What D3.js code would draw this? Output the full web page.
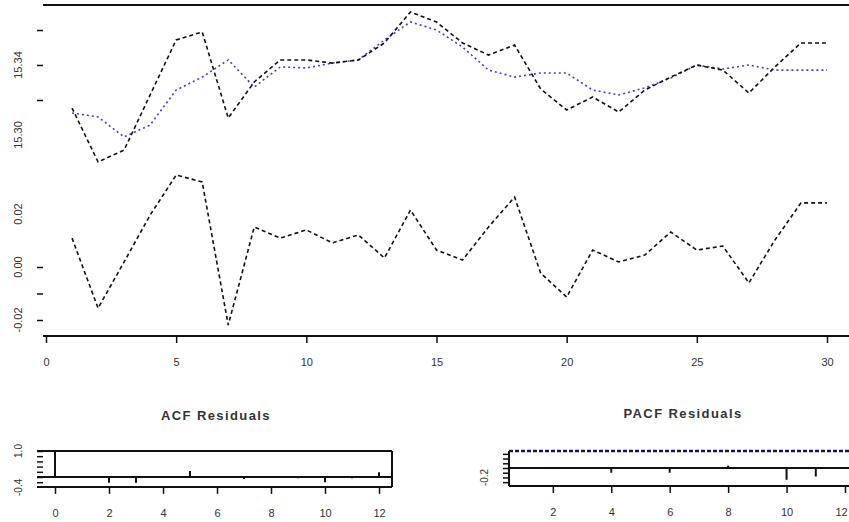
<!DOCTYPE html>
<html>
<head>
<meta charset="utf-8">
<script src="https://cdn.jsdelivr.net/npm/d3@7"></script>
<style>
  html, body { margin: 0; padding: 0; background: #fff; }
  svg { display: block; }
  text { font-family: "Liberation Sans", Arial, sans-serif; fill: #333; }
</style>
</head>
<body>
<svg id="chart" width="849" height="522"></svg>
<script>
// ---------------- DATA ----------------
const times = [1,2,3,4,5,6,7,8,9,10,11,12,13,14,15,16,17,18,19,20,21,22,23,24,25,26,27,28,29,30];
const observed = [15.3154,15.2846,15.2914,15.3229,15.3543,15.3589,15.3097,15.3303,15.3429,15.3429,
                  15.3411,15.3429,15.3526,15.3703,15.3646,15.3526,15.3457,15.3514,15.3263,15.3143,
                  15.3217,15.3131,15.3257,15.3331,15.3400,15.3371,15.3240,15.3389,15.3526,15.3526];
const fitted   = [15.3126,15.3103,15.2989,15.3057,15.3257,15.3331,15.3429,15.3274,15.3389,15.3383,
                  15.3411,15.3429,15.3543,15.3646,15.3600,15.3503,15.3371,15.3331,15.3354,15.3354,
                  15.3257,15.3229,15.3269,15.3326,15.3400,15.3377,15.3400,15.3371,15.3371,15.3371];
const residuals = [0.0109,-0.0155,0.0019,0.0196,0.0347,0.0321,-0.0219,0.0151,0.0109,0.0140,
                   0.0091,0.0121,0.0034,0.0215,0.0064,0.0026,0.0151,0.0264,-0.0023,-0.0113,
                   0.0064,0.0019,0.0045,0.0132,0.0064,0.0079,-0.0060,0.0102,0.0242,0.0242];

const xTicks = [0,5,10,15,20,25,30];
const xTickLabels = ["0","5","10","15","20","25","30"];

const levelTicks = [15.36,15.34,15.32];
const levelLabelValues = [15.34,15.30];
const levelLabels = ["15.34","15.30"];

const residTicks = [0,-0.01,-0.02];
const residLabelValues = [0.02,0,-0.02];
const residLabels = ["0.02","0.00","-0.02"];

const acfTitle = "ACF Residuals";
const acfLags = [0,1,2,3,4,5,6,7,8,9,10,11,12];
const acfValues = [1.0,0.01,-0.22,-0.22,0.01,0.23,0.01,-0.08,0.01,-0.05,-0.2,-0.05,0.18];
const acfXTicks = [0,2,4,6,8,10,12];
const acfXLabels = ["0","2","4","6","8","10","12"];
const acfYTicks = [1.0,0.8,0.6,0.4,0.2,0.0,-0.2];
const acfYLabelValues = [1.0,-0.4];
const acfYLabels = ["1.0","-0.4"];

const pacfTitle = "PACF Residuals";
const pacfLags = [1,2,3,4,5,6,7,8,9,10,11,12];
const pacfValues = [0.0,0.01,0.0,-0.1,0.0,-0.1,0.0,0.05,0.0,-0.25,-0.18,0.0];
const pacfBound = 0.36;
const pacfXTicks = [2,4,6,8,10,12];
const pacfXLabels = ["2","4","6","8","10","12"];
const pacfYTicks = [0.3,0.2,0.1,0.0,-0.1,-0.2,-0.3];
const pacfYLabelValues = [-0.2];
const pacfYLabels = ["-0.2"];

// ---------------- DRAW ----------------
const svg = d3.select("#chart");
svg.append("rect").attr("width",849).attr("height",522).attr("fill","#fff");

const x = d3.scaleLinear().domain([0,30]).range([46,827]);
const yLevel = d3.scaleLinear().domain([15.30,15.36]).range([135,30]);
const yRes = d3.scaleLinear().domain([-0.02,0.02]).range([320,214]);

function leftTicks(scale, ticks, xPos) {
  const g = svg.append("g").attr("transform",`translate(${xPos},0)`)
    .call(d3.axisLeft(scale).tickValues(ticks).tickSize(6).tickFormat(""));
  g.select(".domain").remove();
  g.selectAll("line").attr("stroke","#111").attr("stroke-width",1.5);
  return g;
}
function rotLabels(values, labels, scale, xPos, size) {
  svg.append("g").selectAll("text").data(values).join("text")
    .attr("transform", d => `translate(${xPos},${scale(d)}) rotate(-90)`)
    .attr("text-anchor","middle")
    .attr("font-size", size)
    .text((d,i) => labels[i]);
}

// top frame line
svg.append("line").attr("x1",43).attr("x2",849).attr("y1",5).attr("y2",5)
  .attr("stroke","#111").attr("stroke-width",2);

// level panel
leftTicks(yLevel, levelTicks, 43);
rotLabels(levelLabelValues, levelLabels, yLevel, 22, "11px");

const lineLevel = d3.line().x((d,i) => x(times[i])).y(d => yLevel(d));
svg.append("path").datum(fitted).attr("d", lineLevel)
  .attr("fill","none").attr("stroke","#4040d0").attr("stroke-width",1.6)
  .attr("stroke-dasharray","2,3");
svg.append("path").datum(observed).attr("d", lineLevel)
  .attr("fill","none").attr("stroke","#111").attr("stroke-width",1.6)
  .attr("stroke-dasharray","4,3");

// residual panel
leftTicks(yRes, residTicks, 43);
rotLabels(residLabelValues, residLabels, yRes, 22, "11px");
const lineRes = d3.line().x((d,i) => x(times[i])).y(d => yRes(d));
svg.append("path").datum(residuals).attr("d", lineRes)
  .attr("fill","none").attr("stroke","#111").attr("stroke-width",1.6)
  .attr("stroke-dasharray","4,3");

// x axis
const gx = svg.append("g").attr("transform","translate(0,336)")
  .call(d3.axisBottom(x).tickValues(xTicks).tickSize(7).tickFormat((d,i) => xTickLabels[i]));
gx.select(".domain").remove();
gx.selectAll("line").attr("stroke","#111").attr("stroke-width",1.5);
gx.selectAll("text").attr("font-size","11px").attr("dy","1.8em").attr("fill","#333");
svg.append("line").attr("x1",43).attr("x2",849).attr("y1",336).attr("y2",336)
  .attr("stroke","#111").attr("stroke-width",2);

// ---------------- ACF ----------------
const xAcf = d3.scaleLinear().domain([0,12]).range([55,379]);
const yAcf = d3.scaleLinear().domain([0,1]).range([477,451]);
const acfLeft = 37, acfRight = 392;

svg.append("text").attr("x",216).attr("y",420).attr("text-anchor","middle")
  .attr("font-size","13px").attr("letter-spacing","1.4px").attr("font-weight","bold")
  .attr("fill","#444").text(acfTitle);

[1.0, 0, -0.38].forEach(v => {
  svg.append("line").attr("x1",acfLeft).attr("x2",acfRight)
    .attr("y1",yAcf(v)).attr("y2",yAcf(v)).attr("stroke","#111").attr("stroke-width",2);
});
svg.append("line").attr("x1",acfRight).attr("x2",acfRight)
  .attr("y1",yAcf(1)).attr("y2",yAcf(-0.38)).attr("stroke","#111").attr("stroke-width",2);

svg.append("g").selectAll("line").data(acfValues).join("line")
  .attr("x1",(d,i) => xAcf(acfLags[i])).attr("x2",(d,i) => xAcf(acfLags[i]))
  .attr("y1",yAcf(0)).attr("y2",d => yAcf(d))
  .attr("stroke","#111").attr("stroke-width",2);

leftTicks(yAcf, acfYTicks, 43);
rotLabels(acfYLabelValues, acfYLabels, yAcf, 22, "10px");

const gxa = svg.append("g").attr("transform",`translate(0,${yAcf(-0.38)})`)
  .call(d3.axisBottom(xAcf).tickValues(acfXTicks).tickSize(7).tickFormat((d,i) => acfXLabels[i]));
gxa.select(".domain").remove();
gxa.selectAll("line").attr("stroke","#111").attr("stroke-width",1.5);
gxa.selectAll("text").attr("font-size","11px").attr("dy","1.8em").attr("fill","#333");

// ---------------- PACF ----------------
const xPacf = d3.scaleLinear().domain([1,12]).range([523.6,845]);
const yPacf = d3.scaleLinear().domain([0,pacfBound]).range([468,451]);
const pacfLeft = 509, pacfRight = 862;

svg.append("text").attr("x",683).attr("y",418).attr("text-anchor","middle")
  .attr("font-size","13px").attr("letter-spacing","1.4px").attr("font-weight","bold")
  .attr("fill","#444").text(pacfTitle);

svg.append("line").attr("x1",pacfLeft).attr("x2",pacfRight)
  .attr("y1",yPacf(0)).attr("y2",yPacf(0)).attr("stroke","#111").attr("stroke-width",2);
svg.append("line").attr("x1",pacfLeft).attr("x2",pacfRight)
  .attr("y1",yPacf(-0.38)).attr("y2",yPacf(-0.38)).attr("stroke","#111").attr("stroke-width",2);
svg.append("line").attr("x1",pacfLeft).attr("x2",pacfLeft)
  .attr("y1",yPacf(pacfBound)).attr("y2",yPacf(-0.38)).attr("stroke","#111").attr("stroke-width",2);
svg.append("line").attr("x1",pacfLeft).attr("x2",pacfRight)
  .attr("y1",yPacf(pacfBound)).attr("y2",yPacf(pacfBound))
  .attr("stroke","#10107a").attr("stroke-width",2.5).attr("stroke-dasharray","4,2");

svg.append("g").selectAll("line").data(pacfValues).join("line")
  .attr("x1",(d,i) => xPacf(pacfLags[i])).attr("x2",(d,i) => xPacf(pacfLags[i]))
  .attr("y1",yPacf(0)).attr("y2",d => yPacf(d))
  .attr("stroke","#111").attr("stroke-width",2);

leftTicks(yPacf, pacfYTicks, 509);
rotLabels(pacfYLabelValues, pacfYLabels, yPacf, 488, "10px");

const gxp = svg.append("g").attr("transform",`translate(0,${yPacf(-0.38)})`)
  .call(d3.axisBottom(xPacf).tickValues(pacfXTicks).tickSize(7).tickFormat((d,i) => pacfXLabels[i]));
gxp.select(".domain").remove();
gxp.selectAll("line").attr("stroke","#111").attr("stroke-width",1.5);
gxp.selectAll("text").attr("font-size","11px").attr("dy","1.8em").attr("fill","#333");
// keep the last label inside the window
gxp.selectAll("text").filter(d => d === pacfXTicks[pacfXTicks.length - 1])
  .attr("text-anchor","end").attr("dx","0.2em");
</script>
</body>
</html>
